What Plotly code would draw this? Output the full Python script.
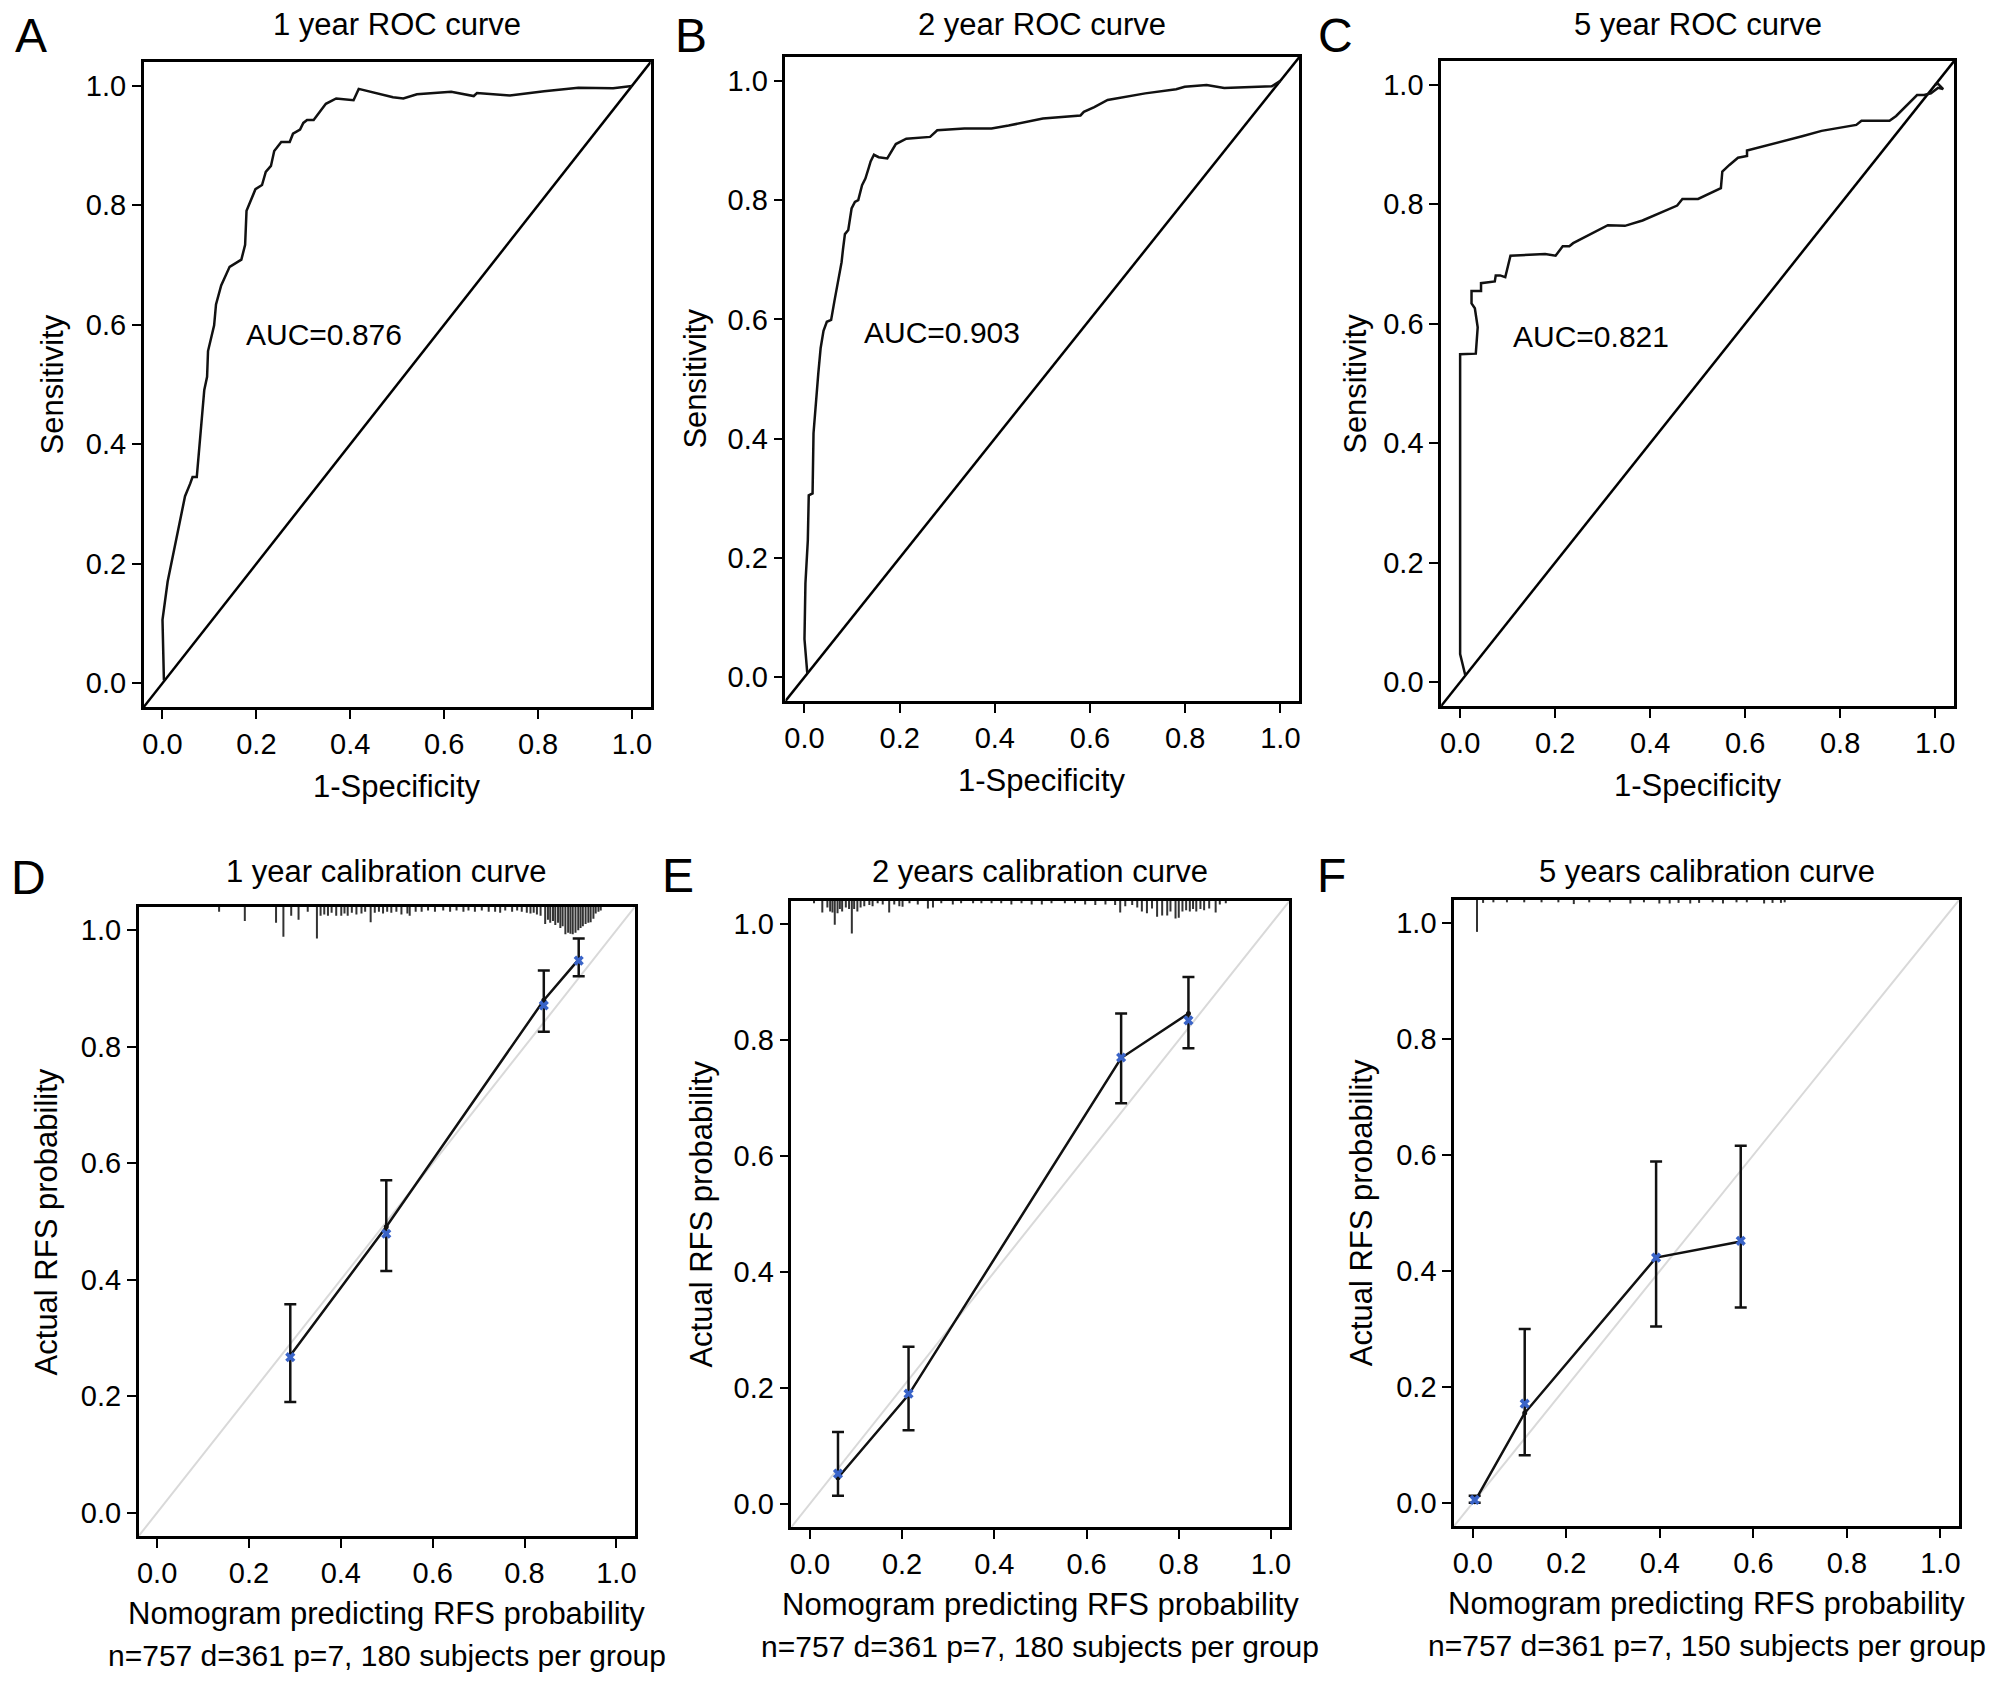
import plotly.graph_objects as go

# ---- ROC curves (1-specificity, sensitivity) ----
fpr_1y = [0.003, 0.0, 0.011, 0.029, 0.044, 0.048, 0.059, 0.064, 0.073, 0.081, 0.089, 0.095, 0.097,
          0.11, 0.114, 0.125, 0.143, 0.168, 0.176, 0.179, 0.187, 0.198, 0.212, 0.22, 0.231, 0.238,
          0.253, 0.271, 0.278, 0.293, 0.3, 0.308, 0.322, 0.337, 0.348, 0.37, 0.407, 0.418, 0.447,
          0.491, 0.513, 0.542, 0.615, 0.663, 0.67, 0.74, 0.813, 0.886, 0.96, 0.989, 1.0]
tpr_1y = [0.005, 0.106, 0.17, 0.241, 0.295, 0.313, 0.334, 0.345, 0.345, 0.42, 0.491, 0.513, 0.556,
          0.599, 0.634, 0.666, 0.697, 0.709, 0.734, 0.791, 0.806, 0.827, 0.834, 0.856, 0.866, 0.891,
          0.906, 0.906, 0.92, 0.927, 0.938, 0.943, 0.943, 0.959, 0.97, 0.979, 0.976, 0.995, 0.989,
          0.981, 0.979, 0.986, 0.99, 0.983, 0.988, 0.984, 0.991, 0.997, 0.996, 0.999, 1.0]

fpr_2y = [0.006, 0.0, 0.002, 0.007, 0.009, 0.017, 0.019, 0.024, 0.029, 0.034, 0.04, 0.047, 0.056,
          0.063, 0.074, 0.078, 0.081, 0.085, 0.092, 0.099, 0.106, 0.113, 0.121, 0.128, 0.135, 0.139,
          0.146, 0.156, 0.174, 0.192, 0.214, 0.264, 0.279, 0.336, 0.393, 0.429, 0.501, 0.58, 0.587,
          0.609, 0.637, 0.716, 0.781, 0.799, 0.845, 0.882, 0.982, 1.0]
tpr_2y = [0.006, 0.064, 0.157, 0.229, 0.305, 0.308, 0.409, 0.466, 0.509, 0.552, 0.581, 0.596, 0.599,
          0.631, 0.675, 0.696, 0.718, 0.743, 0.75, 0.786, 0.797, 0.8, 0.825, 0.836, 0.854, 0.865,
          0.876, 0.872, 0.87, 0.894, 0.903, 0.906, 0.917, 0.92, 0.92, 0.925, 0.937, 0.942, 0.948,
          0.956, 0.968, 0.979, 0.986, 0.99, 0.993, 0.988, 0.991, 1.0]

fpr_5y = [0.011, 0.004, 0.0, 0.0, 0.033, 0.037, 0.031, 0.024, 0.024, 0.044, 0.044, 0.073, 0.075,
          0.084, 0.095, 0.106, 0.179, 0.201, 0.216, 0.23, 0.238, 0.311, 0.347, 0.384, 0.457, 0.468,
          0.501, 0.549, 0.552, 0.567, 0.585, 0.604, 0.604, 0.72, 0.761, 0.834, 0.845, 0.904, 0.918,
          0.962, 0.977, 0.991, 1.006, 1.017, 1.006, 1.0]
tpr_5y = [0.011, 0.032, 0.047, 0.549, 0.55, 0.594, 0.626, 0.634, 0.655, 0.655, 0.668, 0.671, 0.681,
          0.681, 0.678, 0.714, 0.717, 0.714, 0.73, 0.73, 0.735, 0.765, 0.764, 0.773, 0.798, 0.809,
          0.809, 0.827, 0.855, 0.866, 0.878, 0.881, 0.89, 0.914, 0.923, 0.933, 0.94, 0.94, 0.948,
          0.983, 0.983, 0.986, 0.995, 0.993, 1.002, 1.0]

auc_labels = ["AUC=0.876", "AUC=0.903", "AUC=0.821"]

# ---- calibration curves ----
pred_1y = [0.29, 0.499, 0.842, 0.918]
obs_1y = [0.27, 0.491, 0.880, 0.950]
corr_1y = [0.267, 0.479, 0.871, 0.948]
upper_1y = [0.358, 0.571, 0.931, 0.986]
lower_1y = [0.19, 0.415, 0.826, 0.921]

pred_2y = [0.061, 0.214, 0.675, 0.821]
obs_2y = [0.045, 0.188, 0.769, 0.846]
corr_2y = [0.052, 0.190, 0.770, 0.834]
upper_2y = [0.124, 0.271, 0.846, 0.909]
lower_2y = [0.014, 0.127, 0.691, 0.786]

pred_5y = [0.004, 0.111, 0.392, 0.573]
obs_5y = [0.002, 0.155, 0.423, 0.451]
corr_5y = [0.005, 0.171, 0.423, 0.452]
upper_5y = [0.012, 0.30, 0.589, 0.616]
lower_5y = [0.0, 0.082, 0.304, 0.337]

# rug of predicted probabilities along the top (position, tick length)
rug_x_1y = [0.135, 0.191, 0.259, 0.275, 0.292, 0.308, 0.328, 0.348, 0.356, 0.364, 0.372, 0.380,
            0.390, 0.401, 0.408, 0.415, 0.424, 0.434, 0.445, 0.453, 0.465, 0.474, 0.483, 0.492,
            0.501, 0.510, 0.521, 0.532, 0.545, 0.550, 0.563, 0.576, 0.590, 0.605, 0.623, 0.638,
            0.652, 0.667, 0.678, 0.692, 0.707, 0.722, 0.736, 0.747, 0.758, 0.773, 0.784, 0.794,
            0.805, 0.813, 0.820, 0.827, 0.835, 0.845, 0.851, 0.856, 0.862, 0.867, 0.873, 0.878,
            0.883, 0.889, 0.895, 0.900, 0.905, 0.911, 0.917, 0.922, 0.927, 0.933, 0.939, 0.944,
            0.950, 0.955, 0.961, 0.966]
rug_len_1y = [0.008, 0.024, 0.027, 0.051, 0.015, 0.022, 0.008, 0.054, 0.015, 0.013, 0.015, 0.010,
              0.015, 0.015, 0.011, 0.015, 0.010, 0.013, 0.011, 0.008, 0.026, 0.010, 0.008, 0.011,
              0.008, 0.010, 0.008, 0.013, 0.011, 0.015, 0.008, 0.008, 0.006, 0.008, 0.006, 0.008,
              0.006, 0.008, 0.006, 0.008, 0.006, 0.008, 0.008, 0.010, 0.006, 0.008, 0.006, 0.008,
              0.010, 0.011, 0.010, 0.013, 0.015, 0.029, 0.022, 0.027, 0.024, 0.031, 0.027, 0.036,
              0.033, 0.047, 0.044, 0.046, 0.047, 0.044, 0.040, 0.036, 0.033, 0.029, 0.027, 0.026,
              0.020, 0.011, 0.008, 0.006]

rug_x_2y = [0.009, 0.027, 0.038, 0.044, 0.049, 0.054, 0.060, 0.065, 0.070, 0.078, 0.085, 0.091,
            0.096, 0.103, 0.110, 0.118, 0.129, 0.136, 0.147, 0.158, 0.172, 0.183, 0.194, 0.201,
            0.216, 0.234, 0.256, 0.267, 0.285, 0.310, 0.328, 0.354, 0.372, 0.394, 0.415, 0.437,
            0.459, 0.481, 0.503, 0.524, 0.553, 0.575, 0.597, 0.619, 0.641, 0.662, 0.673, 0.684,
            0.699, 0.710, 0.720, 0.731, 0.742, 0.753, 0.764, 0.775, 0.782, 0.793, 0.800, 0.808,
            0.816, 0.824, 0.831, 0.838, 0.847, 0.855, 0.866, 0.880, 0.889, 0.902]
rug_len_2y = [0.004, 0.020, 0.011, 0.018, 0.020, 0.041, 0.021, 0.014, 0.018, 0.011, 0.014, 0.056,
              0.014, 0.018, 0.011, 0.009, 0.007, 0.009, 0.004, 0.006, 0.020, 0.006, 0.009, 0.010,
              0.004, 0.006, 0.013, 0.011, 0.004, 0.006, 0.004, 0.004, 0.004, 0.004, 0.004, 0.006,
              0.004, 0.006, 0.006, 0.004, 0.004, 0.004, 0.006, 0.007, 0.006, 0.007, 0.020, 0.009,
              0.007, 0.011, 0.018, 0.021, 0.013, 0.027, 0.025, 0.025, 0.018, 0.030, 0.029, 0.018,
              0.016, 0.018, 0.014, 0.018, 0.014, 0.016, 0.013, 0.020, 0.006, 0.004]

rug_x_5y = [0.009, 0.022, 0.044, 0.073, 0.110, 0.147, 0.183, 0.216, 0.249, 0.293, 0.337, 0.366,
            0.399, 0.421, 0.440, 0.465, 0.484, 0.513, 0.535, 0.564, 0.586, 0.623, 0.641, 0.659,
            0.667]
rug_len_5y = [0.055, 0.005, 0.004, 0.004, 0.004, 0.004, 0.004, 0.007, 0.004, 0.004, 0.006, 0.004,
              0.006, 0.006, 0.005, 0.006, 0.005, 0.004, 0.006, 0.004, 0.004, 0.006, 0.005, 0.005,
              0.004]

ticks = [0.0, 0.2, 0.4, 0.6, 0.8, 1.0]
tick_text = ["0.0", "0.2", "0.4", "0.6", "0.8", "1.0"]

FONT = "Liberation Sans, Arial, sans-serif"
W, H = 2008, 1684
LO, HI = -0.04, 1.04
DY = 2

# plot boxes in pixels: (left, right, top, bottom)
boxes = [(142, 650, 64, 709), (785, 1300, 59, 703), (1442, 1956, 63, 708),
         (137, 634, 909, 1538), (791, 1290, 903, 1529), (1455, 1961, 902, 1528)]
boxes = [(l, r, t - DY, b - DY) for l, r, t, b in boxes]

fig = go.Figure()

roc = [(fpr_1y, tpr_1y), (fpr_2y, tpr_2y), (fpr_5y, tpr_5y)]
auc_pos = [(0.344, 0.583), (0.29, 0.578), (0.275, 0.578)]
for i, (fx, ty) in enumerate(roc):
    xa, ya = 'x%d' % (i + 1), 'y%d' % (i + 1)
    fig.add_trace(go.Scatter(x=[LO, HI], y=[LO, HI], mode='lines', xaxis=xa, yaxis=ya,
                             line=dict(color='black', width=2.5), showlegend=False))
    fig.add_trace(go.Scatter(x=fx, y=ty, mode='lines', xaxis=xa, yaxis=ya,
                             line=dict(color='#111111', width=2.5), showlegend=False))
    fig.add_annotation(x=auc_pos[i][0], y=auc_pos[i][1], xref=xa, yref=ya, text=auc_labels[i],
                       showarrow=False, font=dict(size=30, color='black', family=FONT))

calib = [(pred_1y, obs_1y, corr_1y, upper_1y, lower_1y, rug_x_1y, rug_len_1y),
         (pred_2y, obs_2y, corr_2y, upper_2y, lower_2y, rug_x_2y, rug_len_2y),
         (pred_5y, obs_5y, corr_5y, upper_5y, lower_5y, rug_x_5y, rug_len_5y)]
for i, (px, ob, co, up, lo, rx, rl) in enumerate(calib):
    xa, ya = 'x%d' % (i + 4), 'y%d' % (i + 4)
    fig.add_trace(go.Scatter(x=[LO, HI], y=[LO, HI], mode='lines', xaxis=xa, yaxis=ya,
                             line=dict(color='#d9d9d9', width=2), showlegend=False))
    # rug
    seg_x, seg_y = [], []
    for x, l in zip(rx, rl):
        seg_x += [x, x, None]
        seg_y += [HI, HI - l, None]
    fig.add_trace(go.Scatter(x=seg_x, y=seg_y, mode='lines', xaxis=xa, yaxis=ya,
                             line=dict(color='#333333', width=2), showlegend=False))
    fig.add_trace(go.Scatter(
        x=px, y=ob, mode='lines+markers', xaxis=xa, yaxis=ya,
        line=dict(color='#111111', width=2.5), marker=dict(color='#111111', size=5),
        error_y=dict(type='data', symmetric=False,
                     array=[u - o for u, o in zip(up, ob)],
                     arrayminus=[o - l for o, l in zip(ob, lo)],
                     color='#111111', thickness=2.5, width=6),
        showlegend=False))
    fig.add_trace(go.Scatter(x=px, y=co, mode='markers', xaxis=xa, yaxis=ya,
                             marker=dict(symbol='x', color='#3a64c8', size=9),
                             showlegend=False))

axis_style = dict(range=[LO, HI], tickvals=ticks, ticktext=tick_text, showgrid=False,
                  zeroline=False, showline=True, mirror=True, linecolor='black', linewidth=2.5,
                  ticks='outside', ticklen=9, tickwidth=2, tickcolor='black',
                  tickfont=dict(size=29, color='black', family=FONT))

layout = dict(width=W, height=H, margin=dict(l=0, r=0, t=0, b=0),
              paper_bgcolor='white', plot_bgcolor='white', font=dict(family=FONT))
for i, (l, r, t, b) in enumerate(boxes):
    n = '' if i == 0 else str(i + 1)
    layout['xaxis' + n] = dict(axis_style, domain=[l / W, r / W], anchor='y%d' % (i + 1))
    layout['yaxis' + n] = dict(axis_style, domain=[1 - b / H, 1 - t / H], anchor='x%d' % (i + 1))
fig.update_layout(layout)

def txt(x, y, s, size=31, angle=0):
    fig.add_annotation(x=x / W, y=1 - y / H, xref='paper', yref='paper', text=s, showarrow=False,
                       textangle=angle, xanchor='center', yanchor='middle',
                       font=dict(size=size, color='black', family=FONT))

titles = ["1 year ROC curve", "2 year ROC curve", "5 year ROC curve",
          "1 year calibration curve", "2 years calibration curve", "5 years calibration curve"]
title_y = [24, 24, 24, 872, 871, 871]
letters = ["A", "B", "C", "D", "E", "F"]
letter_pos = [(29, 38), (690, 38), (1336, 38), (27, 880), (677, 877), (1332, 877)]
ylab_x = [51, 694, 1356, 45, 700, 1362]
subtitles = ["n=757 d=361 p=7, 180 subjects per group",
             "n=757 d=361 p=7, 180 subjects per group",
             "n=757 d=361 p=7, 150 subjects per group"]

for i, (l, r, t, b) in enumerate(boxes):
    cx, cy = (l + r) / 2, (t + b) / 2
    txt(cx, title_y[i], titles[i], size=31)
    txt(letter_pos[i][0], letter_pos[i][1] - DY, letters[i], size=48)
    if i < 3:
        txt(cx, b + 79, "1-Specificity")
        txt(ylab_x[i], cy, "Sensitivity", angle=-90)
    else:
        txt(cx, b + 77, "Nomogram predicting RFS probability")
        txt(cx, b + 119, subtitles[i - 3], size=30)
        txt(ylab_x[i], cy, "Actual RFS probability", angle=-90)

# drop the browser's default body margin so the figure sits at the page corner
fig.write_html("out.html", config={'displayModeBar': False},
               post_script="document.body.style.margin='0';")
